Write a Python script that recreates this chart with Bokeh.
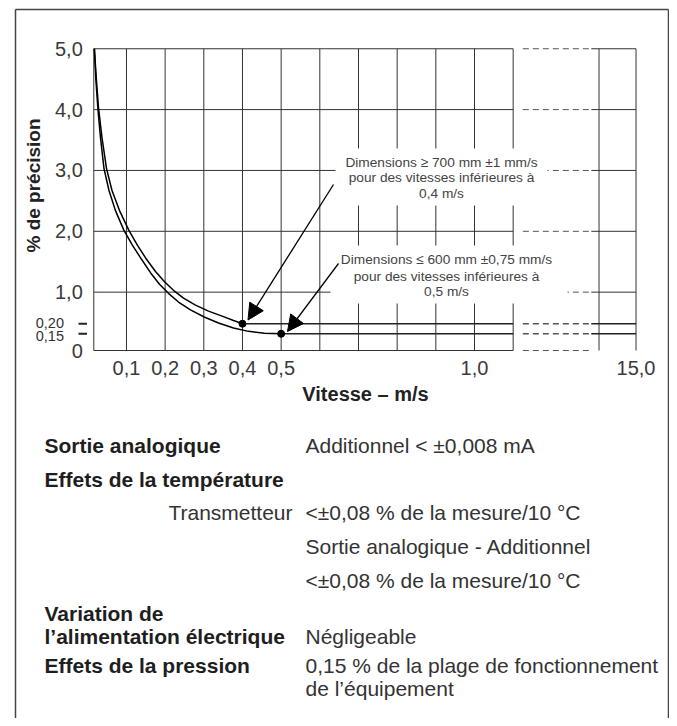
import numpy as np
from bokeh.plotting import figure
from bokeh.models import Range1d, FixedTicker, Label, Arrow, NormalHead, BoxAnnotation
from bokeh.embed import file_html
from bokeh.resources import INLINE

# ---------------- data ----------------
speed_ticks = [0.1, 0.2, 0.3, 0.4, 0.5, 1.0, 15.0]
speed_tick_labels = ["0,1", "0,2", "0,3", "0,4", "0,5", "1,0", "15,0"]
grid_speeds = [0.1, 0.2, 0.3, 0.4, 0.5, 0.6, 0.7, 0.8, 0.9, 1.0, 1.1, 14.9, 15.0]
speed_min = 0.0155
break_start, break_end, speed_max = 1.1, 14.9, 15.0

prec_ticks = [0, 1, 2, 3, 4, 5]
prec_tick_labels = ["0", "1,0", "2,0", "3,0", "4,0", "5,0"]
floor_levels = [0.20, 0.15]
floor_labels = ["0,20", "0,15"]

# curve for dimensions >= 700 mm (floor 0,20 % reached at 0,4 m/s)
curve_700_speed = [0.017, 0.0220, 0.0277, 0.0367, 0.0484, 0.0626, 0.0820, 0.1060, 0.1285,
                   0.1518, 0.1751, 0.1983, 0.2216, 0.2475, 0.2785, 0.3121, 0.3457, 0.3768, 0.40]
curve_700_prec = [5.0, 4.51, 4.03, 3.54, 3.03, 2.67, 2.34, 2.02, 1.77,
                  1.54, 1.34, 1.17, 1.03, 0.85, 0.67, 0.52, 0.40, 0.282, 0.20]
# curve for dimensions <= 600 mm (floor 0,15 % reached at 0,5 m/s)
curve_600_speed = [0.017, 0.0207, 0.0259, 0.0328, 0.0419, 0.0548, 0.0716, 0.0931, 0.1156,
                   0.1389, 0.1621, 0.1854, 0.2086, 0.2345, 0.2655, 0.3010, 0.3380, 0.3768,
                   0.4156, 0.4569, 0.50]
curve_600_prec = [5.0, 4.51, 4.03, 3.54, 3.03, 2.67, 2.34, 2.02, 1.77,
                  1.54, 1.32, 1.13, 0.97, 0.75, 0.55, 0.37, 0.22, 0.179,
                  0.162, 0.153, 0.15]
knee_speed = [0.4, 0.5]
knee_prec = [0.20, 0.15]

note_700 = ["Dimensions \u2265 700 mm \u00b11 mm/s", "pour des vitesses inf\u00e9rieures \u00e0", "0,4 m/s"]
note_600 = ["Dimensions \u2264 600 mm \u00b10,75 mm/s", "pour des vitesses inf\u00e9rieures \u00e0", "0,5 m/s"]

spec_left = ["Sortie analogique", "Effets de la temp\u00e9rature", "Variation de",
             "l\u2019alimentation \u00e9lectrique", "Effets de la pression"]
spec_right = ["Additionnel < \u00b10,008 mA", "<\u00b10,08 % de la mesure/10 \u00b0C",
              "Sortie analogique - Additionnel", "<\u00b10,08 % de la mesure/10 \u00b0C",
              "N\u00e9gligeable", "0,15 % de la plage de fonctionnement", "de l\u2019\u00e9quipement"]
spec_sub = "Transmetteur"

# ---------------- axis geometry (schematic, broken axes) ----------------
X_REAL = [0.0, 1.1, 14.9, 15.0]
X_DISP = [0.0, 1.1, 1.322, 1.4177]
Y_REAL = [0.0, 0.15, 0.20, 1.0, 5.0]
Y_DISP = [0.041, 0.316, 0.481, 1.0, 5.0]


def xd(v):
    return np.interp(v, X_REAL, X_DISP)


def yd(v):
    return np.interp(v, Y_REAL, Y_DISP)


W, H = 669, 718
PX0, SX = 87.3, 386.7      # page x of display 0, px per display unit
PY0, SY = 352.5, 60.85     # page y of display 0, px per display unit


def dx(px):
    return (px - PX0) / SX


def dy(py):
    return (PY0 - py) / SY


def sy(py):  # page y -> screen units (up from bottom of canvas)
    return H - py


p = figure(width=W, height=H, output_backend="svg", toolbar_location=None,
           x_range=Range1d(dx(0), dx(W)), y_range=Range1d(dy(H), dy(0)),
           min_border=0, min_border_left=0, min_border_right=0,
           min_border_top=0, min_border_bottom=0)
p.outline_line_color = None
p.xgrid.visible = False
p.ygrid.visible = False
p.background_fill_color = "white"
p.border_fill_color = "white"

GRID = "#333333"
TXT = "#333333"
FONT = "Liberation Sans"

# vertical grid + left axis line
vx = [float(xd(v)) for v in [speed_min] + grid_speeds]
p.segment(x0=vx, x1=vx, y0=[float(yd(0))] * len(vx), y1=[float(yd(5))] * len(vx),
          line_color=GRID, line_width=1)

# horizontal grid lines (solid / dashed across the break / solid)
hy = [float(yd(v)) for v in prec_ticks]
n = len(hy)
p.segment(x0=[float(xd(speed_min))] * n, x1=[float(xd(break_start))] * n,
          y0=hy, y1=hy, line_color=GRID, line_width=1)
p.segment(x0=[float(xd(break_start)) + 0.025] * n, x1=[float(xd(break_end)) - 0.02] * n,
          y0=hy, y1=hy, line_color="#555555", line_width=1, line_dash="6 4")
hy_top = hy[1:]
p.segment(x0=[float(xd(break_end)) - 0.02] * len(hy_top), x1=[float(xd(speed_max))] * len(hy_top),
          y0=hy_top, y1=hy_top, line_color=GRID, line_width=1)

# curves
p.line(xd(curve_700_speed), yd(curve_700_prec), line_color="black", line_width=1.5)
p.line(xd(curve_600_speed), yd(curve_600_prec), line_color="black", line_width=1.5)
fy = [float(yd(v)) for v in knee_prec]
p.segment(x0=[float(xd(v)) for v in knee_speed], x1=[float(xd(break_start))] * 2,
          y0=fy, y1=fy, line_color="#222222", line_width=1.6)
p.segment(x0=[float(xd(break_start)) + 0.025] * 2, x1=[float(xd(break_end)) - 0.02] * 2,
          y0=fy, y1=fy, line_color="#555555", line_width=1.4, line_dash="6 4")
p.segment(x0=[float(xd(break_end)) - 0.02] * 2, x1=[float(xd(speed_max))] * 2,
          y0=fy, y1=fy, line_color="#222222", line_width=1.6)
p.scatter(xd(knee_speed), yd(knee_prec), size=7, color="black")

# axes, fixed at the chart's own origin lines
p.xaxis.fixed_location = float(yd(0))
p.yaxis.fixed_location = float(xd(speed_min))
p.xaxis.ticker = FixedTicker(ticks=[float(xd(v)) for v in speed_ticks])
p.xaxis.major_label_overrides = {float(xd(v)): l for v, l in zip(speed_ticks, speed_tick_labels)}
p.yaxis.ticker = FixedTicker(ticks=[float(yd(v)) for v in prec_ticks])
p.yaxis.major_label_overrides = {float(yd(v)): l for v, l in zip(prec_ticks, prec_tick_labels)}
for ax in (p.xaxis, p.yaxis):
    ax.axis_line_color = None
    ax.major_tick_line_color = None
    ax.minor_tick_line_color = None
    ax.major_tick_out = 0
    ax.major_tick_in = 0
    ax.major_label_text_font = FONT
    ax.major_label_text_font_size = "20px"
    ax.major_label_text_color = "#3a3a3a"
p.yaxis.major_label_standoff = 11
p.xaxis.major_label_standoff = 10

# axis titles
p.add_layout(Label(x=365, y=sy(393), x_units="screen", y_units="screen",
                   text="Vitesse \u2013 m/s", text_align="center", text_baseline="middle",
                   text_font=FONT, text_font_style="bold", text_font_size="20px",
                   text_color="#222222"))
p.add_layout(Label(x=33, y=sy(185), x_units="screen", y_units="screen", angle=np.pi / 2,
                   text="% de pr\u00e9cision", text_align="center", text_baseline="middle",
                   text_font=FONT, text_font_style="bold", text_font_size="19px",
                   text_color="#222222"))

# small floor labels with tick dashes
for lev, lab, shift in zip(floor_levels, floor_labels, (-1.0, 2.2)):
    py = PY0 - SY * float(yd(lev))
    p.add_layout(Label(x=63.5, y=sy(py + shift), x_units="screen", y_units="screen", text=lab,
                       text_align="right", text_baseline="middle", text_font=FONT,
                       text_font_size="14.5px", text_color=TXT))
    p.add_layout(Arrow(x_start=78, x_end=86.5, y_start=sy(py), y_end=sy(py),
                       start_units="screen", end_units="screen", start=None, end=None,
                       line_color="#222222", line_width=2))

# white boxes behind the notes
p.add_layout(BoxAnnotation(left=dx(335), right=dx(547), top=dy(148), bottom=dy(205),
                           fill_color="white", fill_alpha=1, line_color=None))
p.add_layout(BoxAnnotation(left=dx(330), right=dx(567), top=dy(245), bottom=dy(303),
                           fill_color="white", fill_alpha=1, line_color=None))

for lines, cx, ys in ((note_700, 441, (161.7, 177.3, 193.3)), (note_600, 446, (259, 275.5, 291))):
    for t, yy in zip(lines, ys):
        p.add_layout(Label(x=dx(cx), y=dy(yy), text=t, text_align="center", text_baseline="middle",
                           text_font=FONT, text_font_size="13.7px", text_color="#444444"))

# arrows pointing at the knees
head = dict(size=16, fill_color="black", line_color="black")
p.add_layout(Arrow(x_start=dx(333), y_start=dy(184), x_end=dx(247.5), y_end=dy(319.5),
                   end=NormalHead(**head), line_color="black", line_width=1.3))
p.add_layout(Arrow(x_start=dx(338), y_start=dy(263), x_end=dx(287), y_end=dy(331),
                   end=NormalHead(**head), line_color="black", line_width=1.3))

# specification text below the chart
rows = [445, 479, 512, 546, 580, 613, 636, 665, 688]
left_rows = [rows[0], rows[1], rows[5], rows[6], rows[7]]
right_rows = [rows[0], rows[2], rows[3], rows[4], rows[6], rows[7], rows[8]]
for t, yy in zip(spec_left, left_rows):
    p.add_layout(Label(x=44, y=sy(yy), x_units="screen", y_units="screen", text=t,
                       text_align="left", text_baseline="middle", text_font=FONT,
                       text_font_style="bold", text_font_size="21px", text_color="#1e1e1e"))
for t, yy in zip(spec_right, right_rows):
    p.add_layout(Label(x=305, y=sy(yy), x_units="screen", y_units="screen", text=t,
                       text_align="left", text_baseline="middle", text_font=FONT,
                       text_font_size="21px", text_color=TXT))
p.add_layout(Label(x=292, y=sy(rows[2]), x_units="screen", y_units="screen", text=spec_sub,
                   text_align="right", text_baseline="middle", text_font=FONT,
                   text_font_size="21px", text_color=TXT))

# outer frame (open at the bottom)
for (x0, y0, x1, y1) in ((15, 9, 15, H), (15, 9, 668, 9), (668, 9, 668, H)):
    p.add_layout(Arrow(x_start=x0, y_start=sy(y0), x_end=x1, y_end=sy(y1),
                       start_units="screen", end_units="screen", start=None, end=None,
                       line_color="#444444", line_width=1.5))

open("out.html", "w").write(file_html(p, INLINE))
